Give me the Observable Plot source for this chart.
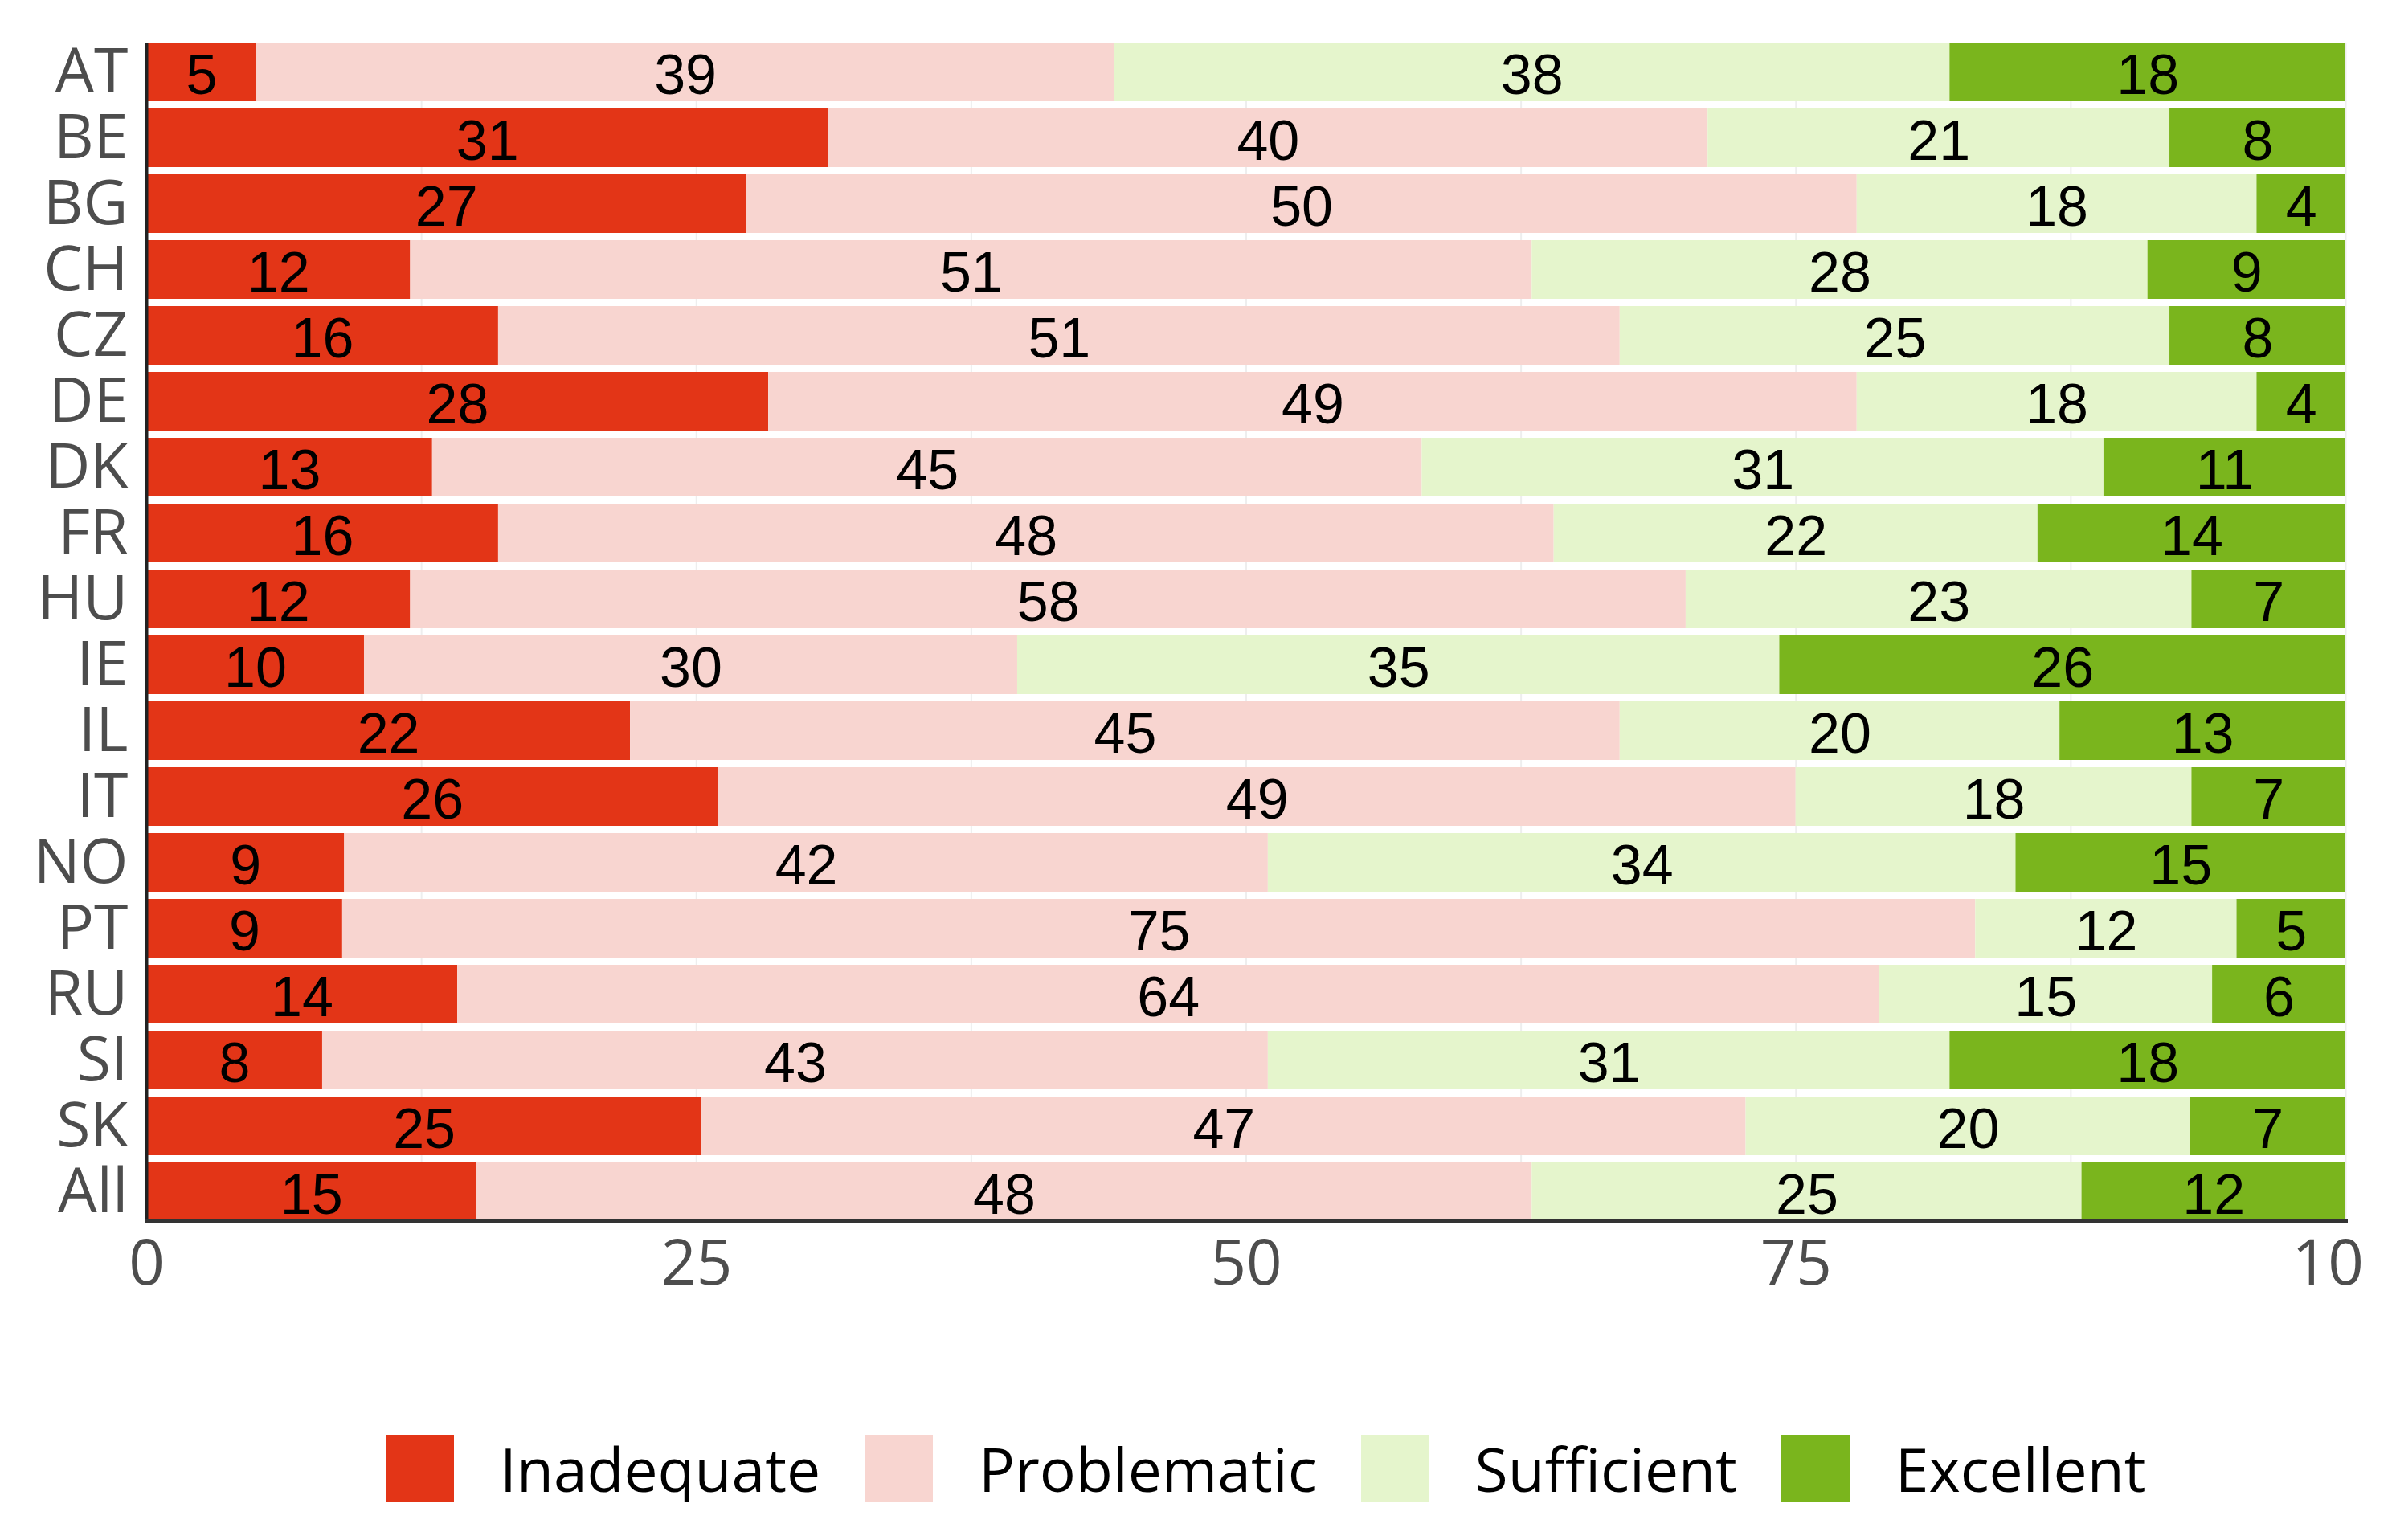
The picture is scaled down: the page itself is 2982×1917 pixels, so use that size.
<!DOCTYPE html>
<html>
<head>
<meta charset="utf-8">
<script src="https://cdn.jsdelivr.net/npm/d3@7"></script>
<script src="https://cdn.jsdelivr.net/npm/@observablehq/plot@0.6"></script>
<style>
  html, body { margin: 0; padding: 0; background: #fff; overflow: hidden; }
  #chart svg { display: block; }
  #legend { display: flex; align-items: center; padding-left: 480px; margin-top: 126px;
            font-family: "Open Sans", "Noto Sans", sans-serif; font-size: 75px; line-height: 84px; color: #000; }
  #legend .item { display: flex; align-items: center; margin-right: 55px; }
  #legend .sw { width: 85px; height: 84px; margin-right: 57px; }
</style>
</head>
<body>
<div id="chart"></div>
<div id="legend"></div>
<script>
const countries = ["AT","BE","BG","CH","CZ","DE","DK","FR","HU","IE","IL","IT","NO","PT","RU","SI","SK","All"];
const categories = ["Inadequate","Problematic","Sufficient","Excellent"];
const colors = ["#e33517","#f8d5d0","#e5f5cc","#7ab51d"];
const inadequate  = [5,31,27,12,16,28,13,16,12,10,22,26,9,9,14,8,25,15];
const problematic = [39,40,50,51,51,49,45,48,58,30,45,49,42,75,64,43,47,48];
const sufficient  = [38,21,18,28,25,18,31,22,23,35,20,18,34,12,15,31,20,25];
const excellent   = [18,8,4,9,8,4,11,14,7,26,13,7,15,5,6,18,7,12];
const xTicks = [0,25,50,75,100];
const gridTicks = [0,12.5,25,37.5,50,62.5,75,87.5,100];

const series = [inadequate, problematic, sufficient, excellent];
const rows = countries.flatMap((c, i) =>
  categories.map((k, j) => ({country: c, category: k, value: series[j][i]})));

const W = 2942, H = 1660;
const axisFont = "'Open Sans', 'Noto Sans', sans-serif";

const chart = Plot.plot({
  width: W, height: H,
  marginLeft: 182, marginRight: 23, marginTop: 53, marginBottom: H - 1520,
  style: {background: "white", overflow: "hidden"},
  x: {domain: [0, 1]},
  y: {domain: countries, paddingInner: 0.11, paddingOuter: 0},
  color: {domain: categories, range: colors},
  marks: [
    Plot.ruleX(gridTicks.map(d => d / 100), {stroke: "#eeeeee", strokeWidth: 2}),
    Plot.barX(rows, Plot.stackX({offset: "normalize", order: categories, x: "value", y: "country", fill: "category"})),
    Plot.text(rows, Plot.stackX({offset: "normalize", order: categories, x: "value", y: "country", z: "category",
      text: d => String(d.value), fill: "#000", fontSize: 70, dy: 5, fontFamily: "'Liberation Sans', Arial, sans-serif"})),
    Plot.axisY({tickSize: 0, tickPadding: 23, fontSize: 77, fontFamily: axisFont, color: "#4d4d4d", label: null}),
    Plot.axisX({ticks: xTicks.map(d => d / 100), tickFormat: d => String(Math.round(d * 100)),
      tickSize: 0, tickPadding: 23, fontSize: 78, fontFamily: axisFont, color: "#4d4d4d", label: null}),
    Plot.ruleX([0], {stroke: "#222", strokeWidth: 4}),
    Plot.frame({anchor: "bottom", stroke: "#333", strokeWidth: 5})
  ]
});
document.getElementById("chart").append(chart);

const legend = document.getElementById("legend");
categories.forEach((k, j) => {
  const item = document.createElement("div");
  item.className = "item";
  const sw = document.createElement("div");
  sw.className = "sw";
  sw.style.background = colors[j];
  const t = document.createElement("span");
  t.textContent = k;
  item.append(sw, t);
  legend.append(item);
});
</script>
</body>
</html>
